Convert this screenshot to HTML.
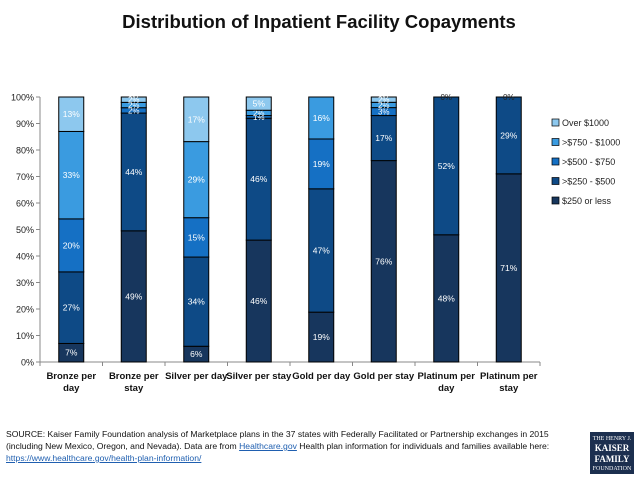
<!DOCTYPE html>
<html><head><meta charset="utf-8"><style>
body{margin:0;background:#fff;font-family:"Liberation Sans",sans-serif;}
#wrap{position:relative;width:638px;height:479px;overflow:hidden;}
.title{position:absolute;left:0;width:638px;top:11px;text-align:center;font-size:18.5px;font-weight:bold;color:#111;}
.src{position:absolute;left:6px;top:428px;width:580px;font-size:8.6px;line-height:12px;color:#111;}
.src a{color:#1f5fb0;text-decoration:underline;}
.logo{position:absolute;left:590px;top:432px;width:44px;height:42px;background:#1c2f4f;color:#fff;font-family:"Liberation Serif",serif;text-align:center;font-size:6px;line-height:8px;padding-top:3px;box-sizing:border-box;}
</style></head><body>
<div id="wrap">
<div class="title">Distribution of Inpatient Facility Copayments</div>
<svg id="chart" width="638" height="479" style="position:absolute;left:0;top:0"></svg>
<div class="src">SOURCE: Kaiser Family Foundation analysis of Marketplace plans in the 37 states with Federally Facilitated or Partnership exchanges in 2015 (including New Mexico, Oregon, and Nevada). Data are from <a>Healthcare.gov</a> Health plan information for individuals and families available here: <a>https://www.healthcare.gov/health-plan-information/</a></div>
<div class="logo">THE HENRY J.<br><b style="font-size:9px;line-height:10px">KAISER<br>FAMILY</b><br>FOUNDATION</div>
</div>
<script>
const categories=["Bronze per|day","Bronze per|stay","Silver per day","Silver per stay","Gold per day","Gold per stay","Platinum per|day","Platinum per|stay"];
const seriesNames=["$250 or less",">$250 - $500",">$500 - $750",">$750 - $1000","Over $1000"];
const s250=[7,49,6,46,19,76,48,71];
const s500=[27,44,34,46,47,17,52,29];
const s750=[20,2,15,1,19,3,0,0];
const s1000=[33,2,29,2,16,2,0,0];
const sOver=[13,2,17,5,0,2,0,0];
const yTicks=[0,10,20,30,40,50,60,70,80,90,100];
const series=[s250,s500,s750,s1000,sOver];
const colors=["#17365d","#0e4a86","#1570c4","#3a9be0","#8dc8ee"];
const NS="http://www.w3.org/2000/svg";
const svg=document.getElementById('chart');
const X0=40,X1=540,Y0=362,Y1=97;
const bw=(X1-X0)/categories.length;
const y=v=>Y0-(Y0-Y1)*v/100;
const xc=i=>X0+bw*(i+0.5);
function mk(t,a){const e=document.createElementNS(NS,t);for(const k in a)e.setAttribute(k,a[k]);svg.appendChild(e);return e;}
let ax=mk('line',{x1:X0,y1:Y1,x2:X0,y2:Y0,stroke:'#888'});


let bx=mk('line',{x1:X0,y1:Y0,x2:X1,y2:Y0,stroke:'#888'});


yTicks.forEach(t=>{
 mk('line',{x1:X0-4,y1:y(t),x2:X0,y2:y(t),stroke:'#888'});
 const tx=mk('text',{x:X0-6,y:y(t)+3.5,'text-anchor':'end','font-size':9,fill:'#222'});
 tx.textContent=t+'%';
 
 
});
for(let i=0;i<=categories.length;i++)mk('line',{x1:X0+bw*i,y1:Y0,x2:X0+bw*i,y2:Y0+4,stroke:'#888'});
categories.forEach((c,i)=>{
 let total=0;series.forEach(s=>total+=s[i]);
 const f=100/total;
 let cum=0;
 series.forEach((s,k)=>{
  const v=s[i], vs=v*f;
  const r=mk('rect',{x:xc(i)-12.5,y:y(cum+vs),width:25,height:Math.max(0,y(cum)-y(cum+vs)),fill:colors[k],stroke:'#000','stroke-width':1});
  
  
  let show=v>0;
  let ty=y(cum+vs/2)+3;
  if(v==0&&k==4&&s750[i]==0&&s1000[i]==0){show=true;ty=y(100)+3;}
  if(show){
   const t=mk('text',{x:xc(i),y:ty,'text-anchor':'middle','font-size':v<4?8:8.5,fill:(v==0?'#222':'#fff')});
   t.textContent=v+'%';
   
   
  }
  cum+=vs;
 });
 const lines=c.split('|');
 lines.forEach((l,j)=>{
  const t=mk('text',{x:xc(i),y:Y0+17+j*12,'text-anchor':'middle','font-size':9.5,'font-weight':'bold',fill:'#111'});
  t.textContent=l;
  
  
 });
});
for(let k=4;k>=0;k--){
 const yy=123+(4-k)*19.5;
 const r=mk('rect',{x:552,y:yy-4,width:7,height:7,fill:colors[k],stroke:'#000','stroke-width':0.7});
 
 
 const t=mk('text',{x:562,y:yy+3,'font-size':9,fill:'#222'});
 t.textContent=seriesNames[k];
 
 
}
</script>
</body></html>
